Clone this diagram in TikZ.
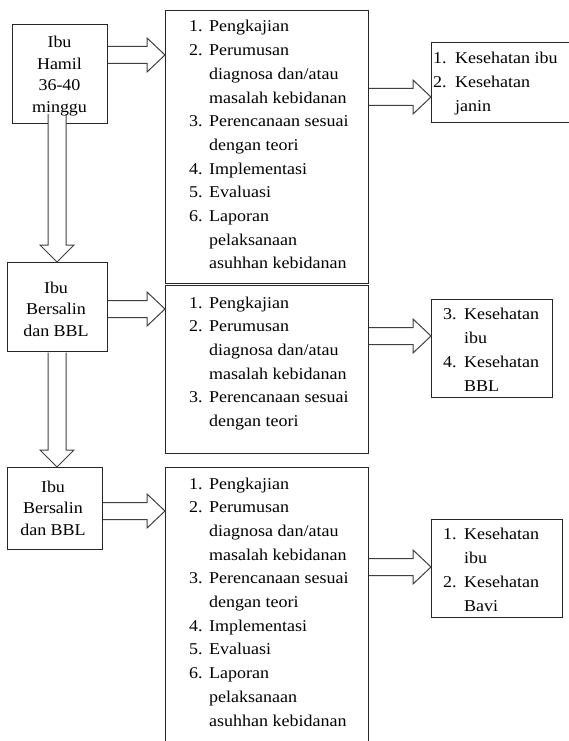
\documentclass[tikz,border=0pt]{standalone}
\usepackage{fontspec}
\setmainfont[FakeStretch=1.09]{Liberation Serif}
\usetikzlibrary{calc}
\tikzset{
  boxstyle/.style={draw=black!85, line width=1.1pt, inner sep=0pt, anchor=north west},
  blk/.style={draw=black!75, line width=1pt, fill=white, line join=miter},
  midtxt/.style={inner sep=0pt, anchor=base west, font=\fontsize{16.5}{23.7}\selectfont},
  rtxt/.style={inner sep=0pt, anchor=base west, font=\fontsize{16.5}{24}\selectfont},
  ltxt/.style={inner sep=0pt, anchor=base, font=\fontsize{16.5}{21.5}\selectfont},
}
\newcommand\itm[3]{\makebox[#1][l]{#2}#3}
\newcommand\harr[3]{%
  \draw[blk] ($(#1.east |- #3)+(0,-8.5)$) -- ($(#2.west |- #3)+(-18,-8.5)$)
    -- ($(#2.west |- #3)+(-18,-17)$) -- (#2.west |- #3)
    -- ($(#2.west |- #3)+(-18,17)$) -- ($(#2.west |- #3)+(-18,8.5)$)
    -- ($(#1.east |- #3)+(0,8.5)$);}
\newcommand\varr[4]{%
  \draw[blk] ($(#3 |- #1.south)+(-9,#4)$) -- ($(#3 |- #2.north)+(-9,-17)$)
    -- ($(#3 |- #2.north)+(-17,-17)$) -- (#3 |- #2.north)
    -- ($(#3 |- #2.north)+(17,-17)$) -- ($(#3 |- #2.north)+(9,-17)$)
    -- ($(#3 |- #1.south)+(9,#4)$);}
\begin{document}
\begin{tikzpicture}[x=1pt,y=-1pt]
\useasboundingbox (0,0) rectangle (569,741);
\clip (0,0) rectangle (569,741);
% boxes (positions)
\path (12,24) node[boxstyle, minimum width=95pt, minimum height=99pt] (A) {};
\path (7,262) node[boxstyle, minimum width=100pt, minimum height=89pt] (B) {};
\path (7,467) node[boxstyle, minimum width=95pt, minimum height=82pt] (C) {};
\path (165,10) node[boxstyle, minimum width=203pt, minimum height=273pt] (m1) {};
\path (165,285) node[boxstyle, minimum width=203pt, minimum height=168pt] (m2) {};
\path (165,467) node[boxstyle, minimum width=203pt, minimum height=300pt] (m3) {};
\path (431,42) node[boxstyle, minimum width=145pt, minimum height=80pt] (r1) {};
\path (431,299) node[boxstyle, minimum width=121pt, minimum height=98pt] (r2) {};
\path (431,519) node[boxstyle, minimum width=131pt, minimum height=98pt] (r3) {};
% arrow reference coordinates
\coordinate (ya) at (0,55);
\coordinate (yb) at (0,309);
\coordinate (yc) at (0,511);
\coordinate (y1) at (0,97);
\coordinate (y2) at (0,336);
\coordinate (y3) at (0,567);
\coordinate (xv) at (57,0);
% horizontal block arrows
\harr{A}{m1}{ya}
\harr{B}{m2}{yb}
\harr{C}{m3}{yc}
\harr{m1}{r1}{y1}
\harr{m2}{r2}{y2}
\harr{m3}{r3}{y3}
% vertical block arrows
\varr{A}{B}{xv}{-10}
\varr{B}{C}{xv}{0.6}
% texts
\node[ltxt] (tA) at (59.5,48) {\begin{tabular}[t]{@{}c@{}}Ibu\\Hamil\\36-40\\minggu\end{tabular}};
\node[ltxt] (tB) at (56,293) {\begin{tabular}[t]{@{}c@{}}Ibu\\Bersalin\\dan BBL\end{tabular}};
\node[ltxt] (tC) at (53,492) {\begin{tabular}[t]{@{}c@{}}Ibu\\Bersalin\\dan BBL\end{tabular}};
\node[midtxt] (t1) at (189,32) {\begin{tabular}[t]{@{}l@{}}
\itm{20pt}{1.}{Pengkajian}\\
\itm{20pt}{2.}{Perumusan}\\
\itm{20pt}{}{diagnosa dan/atau}\\
\itm{20pt}{}{masalah kebidanan}\\
\itm{20pt}{3.}{Perencanaan sesuai}\\
\itm{20pt}{}{dengan teori}\\
\itm{20pt}{4.}{Implementasi}\\
\itm{20pt}{5.}{Evaluasi}\\
\itm{20pt}{6.}{Laporan}\\
\itm{20pt}{}{pelaksanaan}\\
\itm{20pt}{}{asuhhan kebidanan}
\end{tabular}};
\node[midtxt] (t2) at (189,308) {\begin{tabular}[t]{@{}l@{}}
\itm{20pt}{1.}{Pengkajian}\\
\itm{20pt}{2.}{Perumusan}\\
\itm{20pt}{}{diagnosa dan/atau}\\
\itm{20pt}{}{masalah kebidanan}\\
\itm{20pt}{3.}{Perencanaan sesuai}\\
\itm{20pt}{}{dengan teori}
\end{tabular}};
\node[midtxt] (t3) at (189,489) {\begin{tabular}[t]{@{}l@{}}
\itm{20pt}{1.}{Pengkajian}\\
\itm{20pt}{2.}{Perumusan}\\
\itm{20pt}{}{diagnosa dan/atau}\\
\itm{20pt}{}{masalah kebidanan}\\
\itm{20pt}{3.}{Perencanaan sesuai}\\
\itm{20pt}{}{dengan teori}\\
\itm{20pt}{4.}{Implementasi}\\
\itm{20pt}{5.}{Evaluasi}\\
\itm{20pt}{6.}{Laporan}\\
\itm{20pt}{}{pelaksanaan}\\
\itm{20pt}{}{asuhhan kebidanan}
\end{tabular}};
\node[rtxt] (s1) at (433,64) {\begin{tabular}[t]{@{}l@{}}
\itm{22pt}{1.}{Kesehatan ibu}\\
\itm{22pt}{2.}{Kesehatan}\\
\itm{22pt}{}{janin}
\end{tabular}};
\node[rtxt] (s2) at (443,319) {\begin{tabular}[t]{@{}l@{}}
\itm{21pt}{3.}{Kesehatan}\\
\itm{21pt}{}{ibu}\\
\itm{21pt}{4.}{Kesehatan}\\
\itm{21pt}{}{BBL}
\end{tabular}};
\node[rtxt] (s3) at (443,539) {\begin{tabular}[t]{@{}l@{}}
\itm{21pt}{1.}{Kesehatan}\\
\itm{21pt}{}{ibu}\\
\itm{21pt}{2.}{Kesehatan}\\
\itm{21pt}{}{Bavi}
\end{tabular}};
\end{tikzpicture}
\end{document}
